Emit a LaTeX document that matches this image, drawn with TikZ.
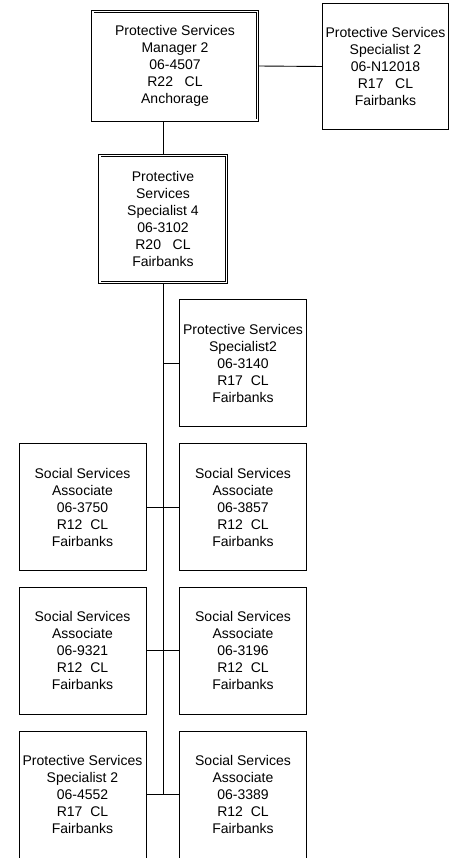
\documentclass[tikz,border=0pt]{standalone}
\usepackage{fontspec}
\setmainfont{Liberation Sans}
\usetikzlibrary{backgrounds}

\begin{document}
\begin{tikzpicture}
    % org chart, coordinates taken in pixels (y going down)
    [x=1pt, y=-1pt,
      post/.style={draw, line width=0.9pt, inner sep=0pt, align=center,
        font=\fontsize{14}{17}\selectfont,
        minimum width=127pt, minimum height=127pt},
      head/.style={post, double, double distance=1.6pt},
      link/.style={line width=0.9pt}]
    \useasboundingbox (0,0) rectangle (455,858);

    % top of the chart
    \node[head, minimum width=164.6pt, minimum height=108.6pt] (manager) at (175,66)
      {Protective Services\\Manager 2\\06-4507\\R22\ \ \ CL\\Anchorage};
    \node[post, minimum width=126.5pt, minimum height=126.5pt] (asst) at (385.5,66.5)
      {Protective Services\\Specialist 2\\06-N12018\\R17\ \ \ CL\\Fairbanks};
    \node[head, minimum width=126.6pt, minimum height=126.6pt] (spec4) at (163,219)
      {Protective\\Services\\Specialist 4\\06-3102\\R20\ \ \ CL\\Fairbanks};

    % staff under the specialist 4
    \node[post] (ps3140) at (243,363)
      {Protective Services\\Specialist2\\06-3140\\R17\ \ CL\\Fairbanks};
    \node[post] (ssa3750) at (82.5,507)
      {Social Services\\Associate\\06-3750\\R12\ \ CL\\Fairbanks};
    \node[post] (ssa3857) at (243,507)
      {Social Services\\Associate\\06-3857\\R12\ \ CL\\Fairbanks};
    \node[post] (ssa9321) at (82.5,650.5)
      {Social Services\\Associate\\06-9321\\R12\ \ CL\\Fairbanks};
    \node[post] (ssa3196) at (243,650.5)
      {Social Services\\Associate\\06-3196\\R12\ \ CL\\Fairbanks};
    \node[post] (ps4552) at (82.5,794.5)
      {Protective Services\\Specialist 2\\06-4552\\R17\ \ CL\\Fairbanks};
    \node[post] (ssa3389) at (243,794.5)
      {Social Services\\Associate\\06-3389\\R12\ \ CL\\Fairbanks};

    % lines go behind the boxes
    \begin{scope}[on background layer]
      \coordinate (trunkend) at (spec4.south |- ssa3389.west);
      \draw[link] (manager.east) -- (asst.west);
      \draw[link] (manager.south -| spec4.north) -- (spec4.north);
      \draw[link] (spec4.south) -- (trunkend);
      \draw[link] (spec4.south |- ps3140.west) -- (ps3140.west);
      \draw[link] (ssa3750.east) -- (ssa3857.west);
      \draw[link] (ssa9321.east) -- (ssa3196.west);
      \draw[link] (ps4552.east) -- (ssa3389.west);
    \end{scope}
\end{tikzpicture}
\end{document}
